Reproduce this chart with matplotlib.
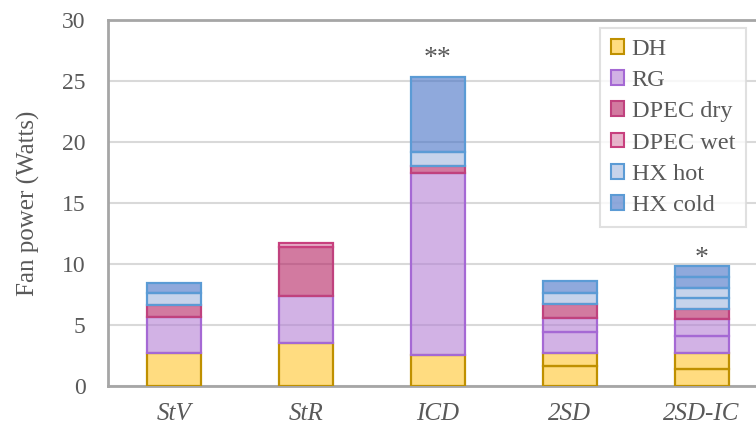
import numpy as np
import matplotlib.pyplot as plt
from matplotlib.colors import to_rgba
from matplotlib.patches import Patch

plt.rcParams['font.family'] = ['Liberation Serif', 'DejaVu Serif']

categories = ['StV', 'StR', 'ICD', '2SD', '2SD-IC']

# fan power per component, Watts; a bar may hold several blocks of one component
dh = [[2.73], [3.5], [2.54], [1.67, 1.01], [1.37, 1.31]]
rg = [[2.95], [3.88], [14.95], [1.77, 1.10], [1.42, 1.39]]
dpec_dry = [[0.96], [3.99], [0.54], [1.14], [0.79]]
dpec_wet = [[], [0.33], [], [], []]
hx_hot = [[0.96], [], [1.17], [0.96], [0.91, 0.87]]
hx_cold = [[0.87], [], [6.15], [0.95], [0.90, 0.90]]

signif = ['', '', '**', '', '*']
signif_gap = [0, 0, 1.5, 0, 0.6]

components = [
    ('DH', dh, '#FFC62B', '#BF9000'),
    ('RG', rg, '#B480D4', '#A569D4'),
    ('DPEC dry', dpec_dry, '#B42161', '#C0427E'),
    ('DPEC wet', dpec_wet, '#D984AA', '#C8407E'),
    ('HX hot', hx_hot, '#A0B7DF', '#5B9BD5'),
    ('HX cold', hx_cold, '#4470C5', '#5B9BD5'),
]
fill_alpha = 0.6
text_col = '#595959'

fig = plt.figure(figsize=(7.56, 4.32), dpi=100)
ax = fig.add_axes([0.1429, 0.1065, 0.8724, 0.8472])

x = np.arange(len(categories))
width = 0.41
bottom = np.zeros(len(categories))

for name, blocks, face, edge in components:
    for i, vals in enumerate(blocks):
        for v in vals:
            ax.bar(x[i], v, width, bottom=bottom[i],
                   facecolor=to_rgba(face, fill_alpha),
                   edgecolor=edge, linewidth=1.6, zorder=3)
            bottom[i] += v

for i, s in enumerate(signif):
    if s:
        ax.text(x[i], bottom[i] + signif_gap[i], s, ha='center', va='center',
                fontsize=20, color=text_col)

ax.set_xlim(-0.5, 4.5)
ax.set_ylim(0, 30)
ax.set_yticks(np.arange(0, 31, 5))
ax.set_xticks(x)
ax.set_xticklabels(categories, fontstyle='italic', fontsize=18, color=text_col)
ax.tick_params(axis='y', labelsize=17, labelcolor=text_col, length=0, pad=16)
ax.tick_params(axis='x', length=0, pad=12)
ax.set_ylabel('Fan power (Watts)', fontsize=18, color=text_col, labelpad=16)

ax.yaxis.grid(True, color='#D9D9D9', linewidth=1.5, zorder=0)
ax.set_axisbelow(True)
for side in ['left', 'bottom', 'top']:
    ax.spines[side].set_color('#A6A6A6')
    ax.spines[side].set_linewidth(2)
ax.spines['right'].set_visible(False)

handles = [Patch(facecolor=to_rgba(face, fill_alpha),
                 edgecolor=edge, linewidth=1.5, label=name)
           for name, _, face, edge in components]
leg = ax.legend(handles=handles, loc='upper left', bbox_to_anchor=(0.746, 0.978),
                borderaxespad=0, fontsize=17.5, frameon=True, fancybox=False,
                handlelength=0.55, handleheight=0.55, handletextpad=0.3,
                labelspacing=0.42, borderpad=0.45, labelcolor=text_col)
leg.get_frame().set_edgecolor('#D9D9D9')
leg.get_frame().set_linewidth(1.5)

plt.savefig('out.png', dpi=100)
